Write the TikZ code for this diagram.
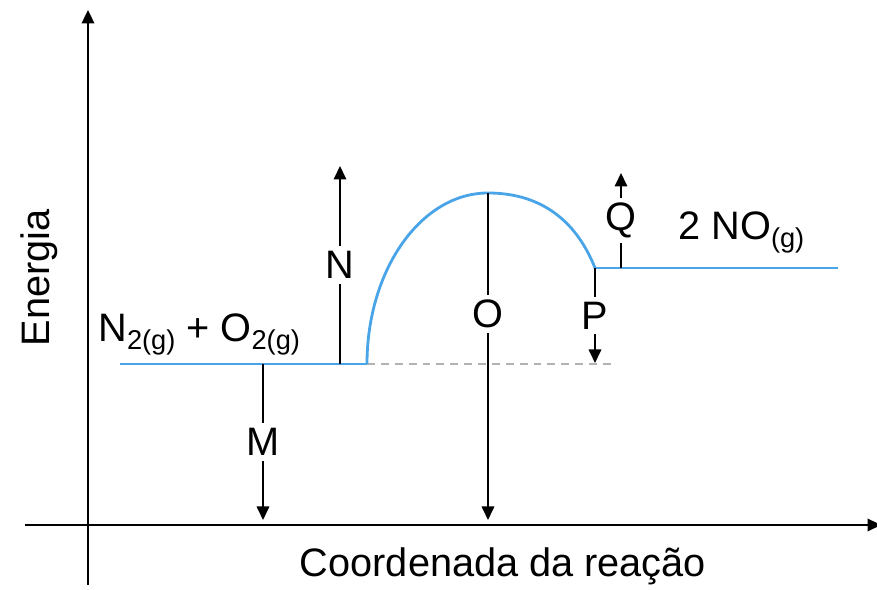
\documentclass[tikz,border=0pt]{standalone}
\usepackage{fontspec}
\setmainfont{Liberation Sans}
\usetikzlibrary{arrows.meta}

\definecolor{pathblue}{HTML}{4AA5E8}
\newcommand{\chemsub}[1]{\raisebox{-4.5pt}{\fontsize{15.5}{18}\selectfont #1}}

\begin{document}
\begin{tikzpicture}[x=0.02cm, y=-0.02cm, >={Triangle[length=0.27cm, width=0.25cm]},
  font=\fontsize{22.6}{27}\selectfont,
  axis/.style={line width=1.3pt},
  level/.style={pathblue, line width=1.6pt},
  gap/.style={->, line width=1pt},
  lbl/.style={fill=white, inner sep=3pt}]
\useasboundingbox (0,0) rectangle (877,590);

% --- axes ---
\coordinate (ybot) at (88,585);
\coordinate (ytop) at (88,10);
\coordinate (xleft) at (25,525);
\coordinate (xright) at (881,525);
\draw[axis, ->] (ybot) -- (ytop);
\draw[axis, ->] (xleft) -- (xright);
\node[rotate=90, anchor=base, inner sep=0] (ylabel) at (50,278) {Energia};
\node[anchor=base, inner sep=0] (xlabel) at (503,577) {Coordenada da reação};

% --- reaction path ---
\coordinate (r0) at (120,364);
\coordinate (r1) at (367,364);
\coordinate (peak) at (488,193);
\coordinate (p0) at (595,268);
\coordinate (p1) at (838,268);
\coordinate (dashend) at (612,364);
\draw[gray!60, line width=1.1pt, dash pattern=on 4.5pt off 3.4pt] (r1) -- (dashend);
\draw[level] (r0) -- (r1);
\draw[level] (r1) .. controls (367,270) and (421,193) .. (peak)
  .. controls (545,193) and (578,225) .. (p0);
\draw[level] (p0) -- (p1);

\node[anchor=base west, inner sep=0] (reactants) at (98,342) {N\chemsub{2(g)} + O\chemsub{2(g)}};
\node[anchor=base west, inner sep=0] (products) at (678,240) {2 NO\chemsub{(g)}};

% --- energy arrows ---
\coordinate (mtop) at (263,364);
\coordinate (mbot) at (263,520);
\coordinate (nbot) at (340,364);
\coordinate (ntop) at (340,166);
\coordinate (obot) at (488,520);
\coordinate (ptop) at (595,268);
\coordinate (pbot) at (595,363);
\coordinate (qbot) at (621,268);
\coordinate (qtop) at (621,173);
\draw[gap] (mtop) -- node[lbl] (mlab) {M} (mbot);
\draw[gap] (nbot) -- node[lbl] (nlab) {N} (ntop);
\draw[gap] (peak) -- node[lbl, pos=0.37] (olab) {O} (obot);
\draw[gap] (ptop) -- node[lbl] (plab) {P} (pbot);
\draw[gap] (qbot) -- node[lbl] (qlab) {Q} (qtop);

\end{tikzpicture}
\end{document}
